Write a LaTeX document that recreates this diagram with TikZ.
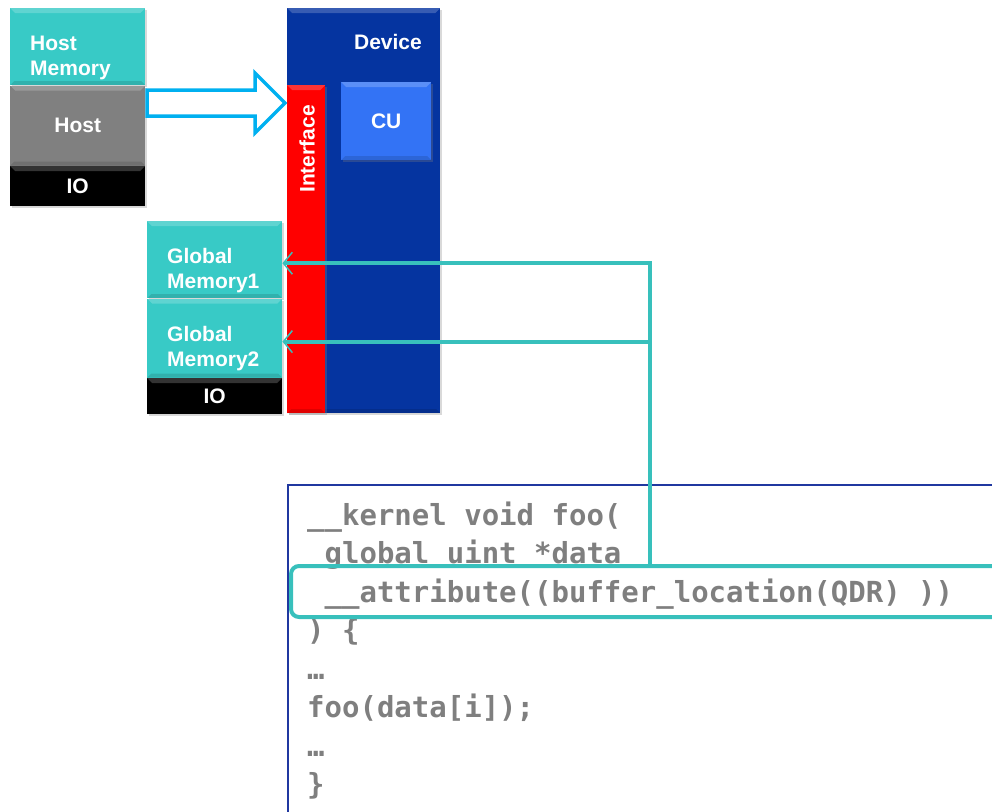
\documentclass[tikz,border=0pt]{standalone}
\usepackage{fontspec}
\setsansfont{Liberation Sans}
\newfontfamily\codefont{DejaVu Sans Mono}
\usetikzlibrary{positioning,arrows.meta,shadows}

\definecolor{memteal}{RGB}{56,202,198}
\definecolor{hostgray}{RGB}{128,128,128}
\definecolor{devblue}{RGB}{5,52,160}
\definecolor{ifred}{RGB}{255,0,0}
\definecolor{cublue}{RGB}{51,115,245}
\definecolor{arrowcyan}{RGB}{0,176,240}
\definecolor{linkteal}{RGB}{56,192,188}
\definecolor{codegray}{RGB}{127,127,127}
\definecolor{codeframe}{RGB}{32,56,160}

% two-line label, pushed down a little like the original
\newcommand\memlbl[2]{\rule{0pt}{36pt}#1\\#2}

\tikzset{
  bevel/.style={path picture={
    \fill[white, opacity=.2] (path picture bounding box.north west)
      -- (path picture bounding box.north east)
      -- ([shift={(-5pt,-5pt)}]path picture bounding box.north east)
      -- ([shift={(5pt,-5pt)}]path picture bounding box.north west) -- cycle;
    \fill[black, opacity=.12] (path picture bounding box.south west)
      -- (path picture bounding box.south east)
      -- ([shift={(-4pt,4pt)}]path picture bounding box.south east)
      -- ([shift={(4pt,4pt)}]path picture bounding box.south west) -- cycle;}},
  lbl/.style={inner sep=0pt, text=white, font=\sffamily\bfseries\fontsize{21}{25}\selectfont},
  box/.style={lbl, minimum width=135pt, bevel,
    drop shadow={shadow xshift=1.5pt, shadow yshift=-2pt, opacity=.3}},
  memtext/.style={text width=95pt, align=left},
  hollow/.style={draw=arrowcyan, line width=3.5pt, fill=white},
  link/.style={draw=linkteal, line width=4pt,
    -{Straight Barb[length=9pt, width=22pt, line width=1.5pt]}},
  codebox/.style={draw=codeframe, line width=1.5pt, inner sep=0pt, anchor=north west},
  hilite/.style={draw=linkteal, line width=4pt, rounded corners=8pt, inner sep=0pt, anchor=north west},
  codeline/.style={anchor=base west, inner sep=0pt, text=codegray,
    font=\codefont\bfseries\fontsize{29}{38}\selectfont}
}

\begin{document}
\begin{tikzpicture}[x=1pt, y=-1pt]
\useasboundingbox (0,0) rectangle (992,811);
\clip (0,0) rectangle (992,811);

% Host side
\node[box, fill=memteal, memtext, minimum height=77pt, anchor=north west] (hostmem) at (10,8) {\memlbl{Host}{Memory}};
\node[box, fill=hostgray, minimum height=80pt, below=0pt of hostmem] (host) {Host};
\node[box, fill=black, minimum height=40pt, below=0pt of host] (hostio) {IO};

% Device
\node[box, fill=devblue, minimum width=153pt, minimum height=405pt, anchor=north west] (device) at (287,8) {};
\node[lbl] (devlbl) at (388,42) {Device};
\node[box, fill=ifred, minimum width=38pt, minimum height=328pt, anchor=north west] (iface) at (287,85) {};
\node[lbl, rotate=90] (ifacelbl) at (307,149) {Interface};
\node[box, fill=cublue, minimum width=90pt, minimum height=78pt, anchor=north west] (cu) at (341,82) {CU};

% Global memories
\node[box, fill=memteal, memtext, minimum height=77pt, anchor=north west] (gmem1) at (147,221) {\memlbl{Global}{Memory1}};
\node[box, fill=memteal, memtext, minimum height=79pt, below=0pt of gmem1] (gmem2) {\memlbl{Global}{Memory2}};
\node[box, fill=black, minimum height=36pt, below=0pt of gmem2] (devio) {IO};

% hollow arrow host -> device
\coordinate (arrS) at (147,103);
\coordinate (arrE) at (285,103);
\draw[hollow] (arrS) ++(0,-13) -- ++(108,0) -- ++(0,-17) -- (arrE)
  -- ++(-30,30) -- ++(0,-17) -- ++(-108,0) -- cycle;

% Kernel code
\node[codebox, minimum width=800pt, minimum height=400pt] (code) at (287,484) {};
\foreach \ln [count=\i from 0] in {{\_\_kernel void foo(}, {\hphantom{x}global uint *data},
    {\hphantom{x}\_\_attribute((buffer\_location(QDR) ))}, {) \{}, {…},
    {foo(data[i]);}, {…}, {\}}}
  \node[codeline] (line\i) at (307,525+38.5*\i) {\ln};
\node[hilite, minimum width=800pt, minimum height=51pt] (attr) at (289,564) {};

% buffer location links
\coordinate (split) at (650,263);
\draw[link] (attr.north -| split) |- ([yshift=-3.5pt]gmem1.east);
\draw[link] ([yshift=-3.5pt]gmem2.east -| split) -- ([yshift=-3.5pt]gmem2.east);
\end{tikzpicture}
\end{document}
